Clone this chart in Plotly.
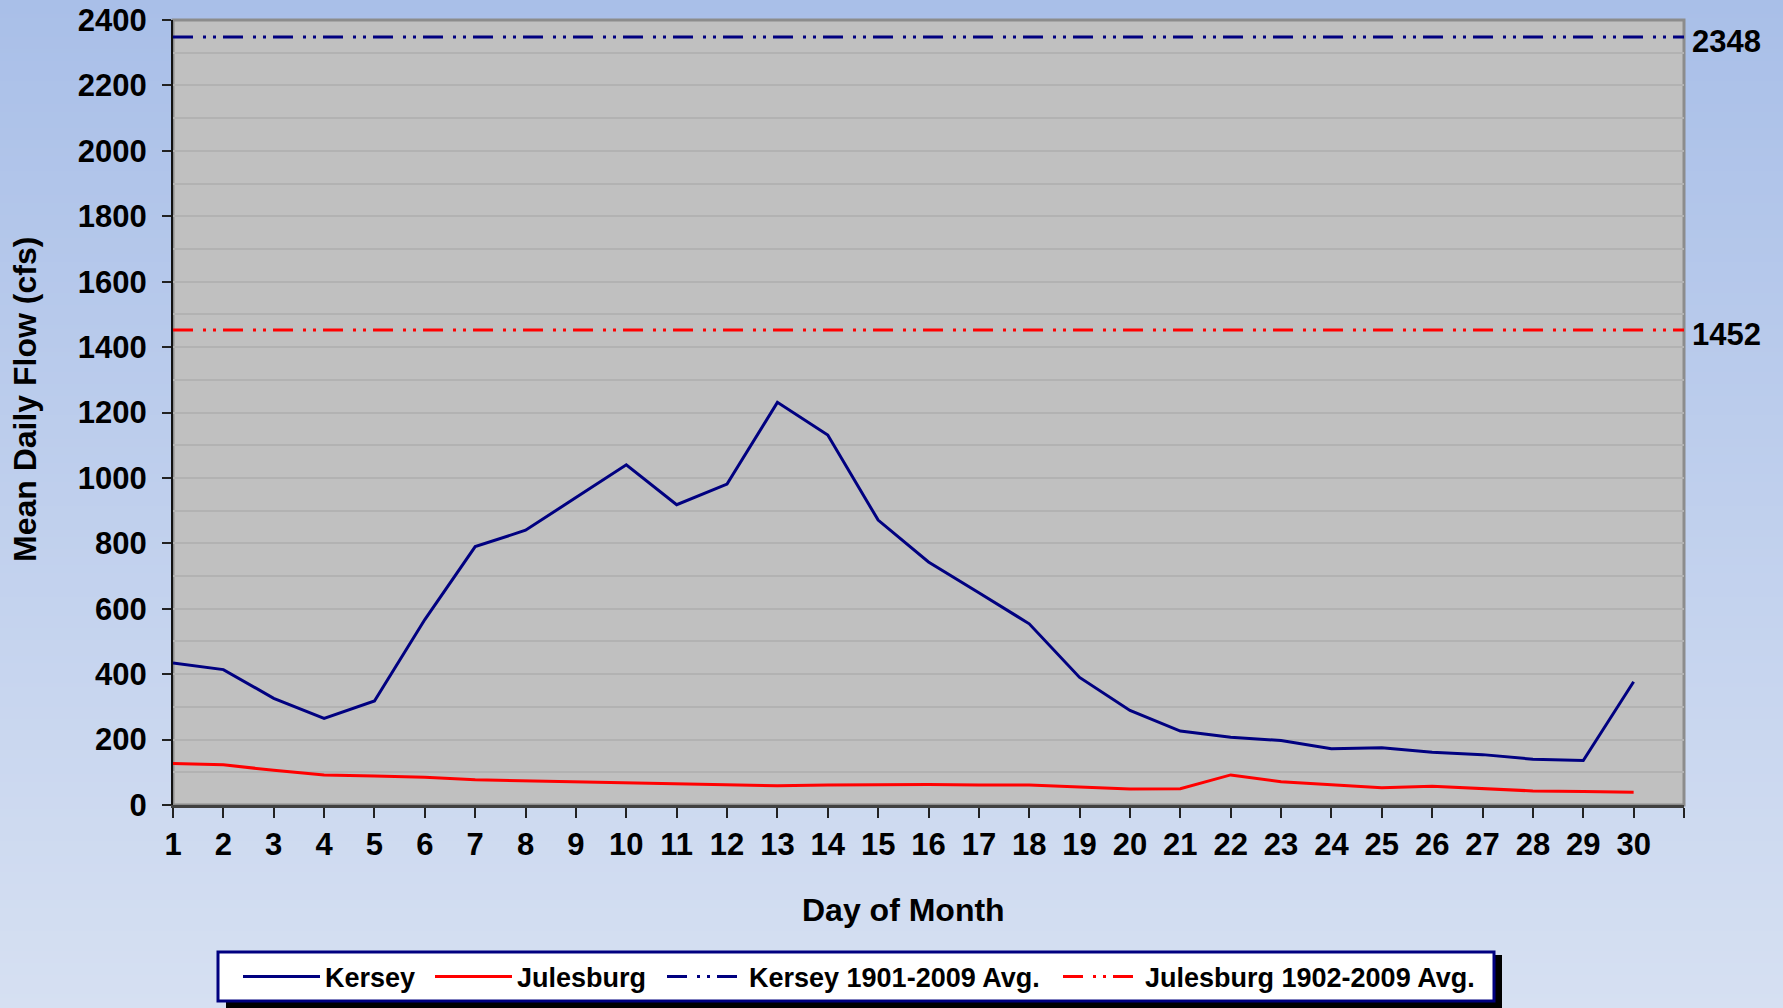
import zlib, struct, base64
import plotly.graph_objects as go

days = list(range(1, 31))
kersey = [434, 414, 326, 265, 318, 567, 790, 840, 940, 1040, 918, 981, 1231, 1131, 871,
          743, 649, 554, 390, 289, 226, 207, 197, 172, 175, 161, 154, 140, 136, 377]
julesburg = [127, 123, 106, 92, 89, 85, 77, 74, 73, 68, 67, 63, 59, 61, 62,
             63, 61, 61, 55, 49, 50, 92, 71, 63, 53, 57, 51, 43, 41, 39]
kersey_avg = 2348
julesburg_avg = 1452
y_ticks = list(range(0, 2401, 200))

W, H = 1783, 1008
ML, MR, MT, MB = 173, 99, 20, 203
PW, PH = W - ML - MR, H - MT - MB


def png_gradient(top, bottom, h=256):
    raw = b''
    for i in range(h):
        t = i / (h - 1)
        c = [round(top[k] + (bottom[k] - top[k]) * t) for k in range(3)]
        raw += b'\x00' + bytes(c)

    def chunk(tag, data):
        return (struct.pack('>I', len(data)) + tag + data +
                struct.pack('>I', zlib.crc32(tag + data) & 0xffffffff))
    png = (b'\x89PNG\r\n\x1a\n' +
           chunk(b'IHDR', struct.pack('>IIBBBBB', 1, h, 8, 2, 0, 0, 0)) +
           chunk(b'IDAT', zlib.compress(raw)) + chunk(b'IEND', b''))
    return 'data:image/png;base64,' + base64.b64encode(png).decode()


def px_x(px):
    return (px - ML) / PW


def px_y(py):
    return 1 - (py - MT) / PH


FONT = "Liberation Sans, Arial, sans-serif"
DASH = "20px,10px,3px,7px,3px,7px"
x_end = days[-1] + 1

fig = go.Figure()
fig.add_trace(go.Scatter(x=days, y=kersey, mode="lines", name="Kersey", legend="legend",
                         line=dict(color="#000080", width=3)))
fig.add_trace(go.Scatter(x=days, y=julesburg, mode="lines", name="Julesburg", legend="legend2",
                         line=dict(color="#FF0000", width=3)))
fig.add_trace(go.Scatter(x=[days[0], x_end], y=[kersey_avg, kersey_avg], mode="lines",
                         name="Kersey 1901-2009 Avg.", legend="legend3",
                         line=dict(color="#000080", width=3, dash=DASH)))
fig.add_trace(go.Scatter(x=[days[0], x_end], y=[julesburg_avg, julesburg_avg], mode="lines",
                         name="Julesburg 1902-2009 Avg.", legend="legend4",
                         line=dict(color="#FF0000", width=3, dash=DASH)))

for v in (kersey_avg, julesburg_avg):
    fig.add_annotation(x=1, xref="paper", y=v, yref="y", text=str(v),
                       showarrow=False, xanchor="left", yanchor="middle",
                       xshift=6, yshift=-4,
                       font=dict(family=FONT, size=31, color="black", weight="bold"))

# axis titles (placed as in the original, slightly off-centre)
fig.add_annotation(x=px_x(903), xref="paper", y=px_y(910), yref="paper",
                   text="Day of Month", showarrow=False, xanchor="center", yanchor="middle",
                   font=dict(family=FONT, size=32, color="black", weight="bold"))
fig.add_annotation(x=px_x(25), xref="paper", y=px_y(400), yref="paper",
                   text="Mean Daily Flow (cfs)", showarrow=False, textangle=-90,
                   xanchor="center", yanchor="middle",
                   font=dict(family=FONT, size=32, color="black", weight="bold"))

fig.add_layout_image(dict(source=png_gradient((169, 191, 232), (214, 224, 242)),
                          xref="paper", yref="paper", x=px_x(0), y=px_y(0),
                          sizex=W / PW, sizey=H / PH, sizing="stretch",
                          xanchor="left", yanchor="top", layer="below"))
# plot area background with grey frame
fig.add_shape(type="rect", xref="paper", yref="paper", x0=0, x1=1, y0=0, y1=1,
              fillcolor="#C0C0C0", line=dict(color="#8C8C8C", width=3), layer="below")

# legend box with shadow
lx0, lx1, ly0, ly1 = 218, 1494, 952, 1001
sh = 8
fig.add_shape(type="rect", xref="paper", yref="paper",
              x0=px_x(lx0 + sh), x1=px_x(lx1 + sh), y0=px_y(ly1 + sh), y1=px_y(ly0 + 3),
              fillcolor="black", line=dict(width=0), layer="above")
fig.add_shape(type="rect", xref="paper", yref="paper",
              x0=px_x(lx0), x1=px_x(lx1), y0=px_y(ly1), y1=px_y(ly0),
              fillcolor="white", line=dict(color="#000080", width=3), layer="above")

leg_common = dict(orientation="h", xanchor="left", yanchor="middle", y=px_y(977),
                  bgcolor="rgba(0,0,0,0)", borderwidth=0, itemwidth=77,
                  font=dict(family=FONT, size=27, color="black", weight="bold"))
text_starts = [325, 517, 749, 1145]
ITEM_TEXT_OFFSET = 77 + 10

fig.update_layout(
    width=W, height=H,
    margin=dict(l=ML, r=MR, t=MT, b=MB, autoexpand=False),
    paper_bgcolor="rgba(0,0,0,0)",
    plot_bgcolor="rgba(0,0,0,0)",
    font=dict(family=FONT, color="black"),
    showlegend=True,
    legend=dict(leg_common, x=px_x(text_starts[0] - ITEM_TEXT_OFFSET)),
    legend2=dict(leg_common, x=px_x(text_starts[1] - ITEM_TEXT_OFFSET)),
    legend3=dict(leg_common, x=px_x(text_starts[2] - ITEM_TEXT_OFFSET)),
    legend4=dict(leg_common, x=px_x(text_starts[3] - ITEM_TEXT_OFFSET)),
    xaxis=dict(range=[days[0], x_end], tickmode="array", automargin=False,
               tickvals=days + [x_end], ticktext=[str(d) for d in days] + [""],
               ticks="outside", ticklen=10, tickwidth=2, tickcolor="#222",
               showline=True, linecolor="#404040", linewidth=3,
               showgrid=False, zeroline=False, ticklabelstandoff=0,
               tickfont=dict(family=FONT, size=31, color="black", weight="bold")),
    yaxis=dict(range=[0, 2400], tickmode="array", tickvals=y_ticks, automargin=False,
               ticks="outside", ticklen=9, tickwidth=2, tickcolor="#222",
               showline=True, linecolor="#111", linewidth=2,
               showgrid=True, gridcolor="#B2B2B2", gridwidth=2, zeroline=False,
               minor=dict(dtick=100, tick0=0, showgrid=True, gridcolor="#B2B2B2", gridwidth=2, ticks=""),
               ticklabelstandoff=9,
               tickfont=dict(family=FONT, size=31, color="black", weight="bold")),
)

fig.write_html("out.html", config={"displayModeBar": False},
               post_script="document.body.style.margin='0';")
